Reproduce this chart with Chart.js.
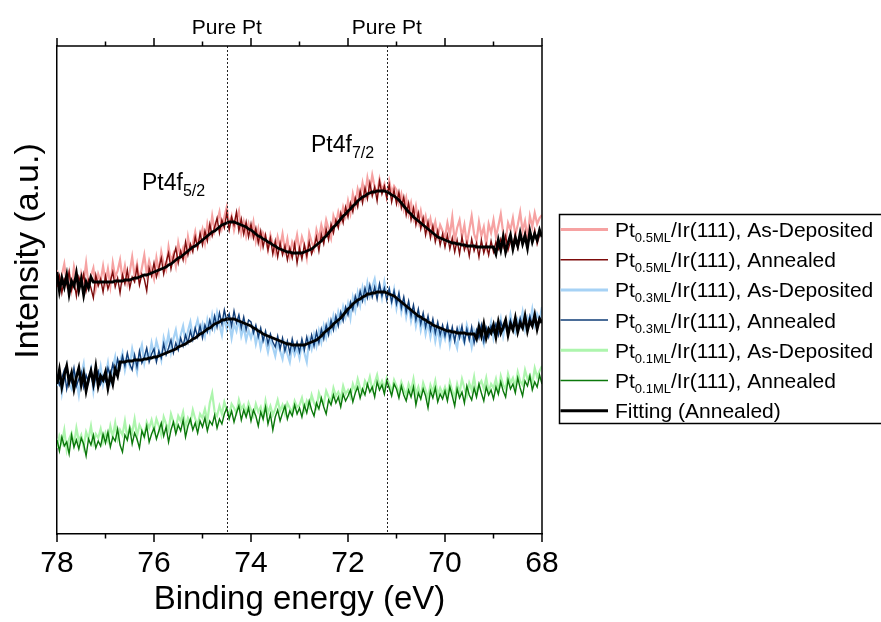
<!DOCTYPE html>
<html>
<head>
<meta charset="utf-8">
<script src="https://cdn.jsdelivr.net/npm/chart.js@4.4.1/dist/chart.umd.min.js"></script>
<style>
  html, body { margin: 0; padding: 0; background: #fff; }
  #wrap { width: 881px; height: 622px; }
</style>
</head>
<body>
<div id="wrap"><canvas id="xps" width="881" height="622"></canvas></div>
<script>
// Binding energy grid (eV), one row per eV
const energy = [
  78.00, 77.95, 77.90, 77.85, 77.80, 77.75, 77.70, 77.65, 77.60, 77.55, 77.50, 77.45, 77.40, 77.35, 77.30, 77.25, 77.20, 77.15, 77.10, 77.05,
  77.00, 76.95, 76.90, 76.85, 76.80, 76.75, 76.70, 76.65, 76.60, 76.55, 76.50, 76.45, 76.40, 76.35, 76.30, 76.25, 76.20, 76.15, 76.10, 76.05,
  76.00, 75.95, 75.90, 75.85, 75.80, 75.75, 75.70, 75.65, 75.60, 75.55, 75.50, 75.45, 75.40, 75.35, 75.30, 75.25, 75.20, 75.15, 75.10, 75.05,
  75.00, 74.95, 74.90, 74.85, 74.80, 74.75, 74.70, 74.65, 74.60, 74.55, 74.50, 74.45, 74.40, 74.35, 74.30, 74.25, 74.20, 74.15, 74.10, 74.05,
  74.00, 73.95, 73.90, 73.85, 73.80, 73.75, 73.70, 73.65, 73.60, 73.55, 73.50, 73.45, 73.40, 73.35, 73.30, 73.25, 73.20, 73.15, 73.10, 73.05,
  73.00, 72.95, 72.90, 72.85, 72.80, 72.75, 72.70, 72.65, 72.60, 72.55, 72.50, 72.45, 72.40, 72.35, 72.30, 72.25, 72.20, 72.15, 72.10, 72.05,
  72.00, 71.95, 71.90, 71.85, 71.80, 71.75, 71.70, 71.65, 71.60, 71.55, 71.50, 71.45, 71.40, 71.35, 71.30, 71.25, 71.20, 71.15, 71.10, 71.05,
  71.00, 70.95, 70.90, 70.85, 70.80, 70.75, 70.70, 70.65, 70.60, 70.55, 70.50, 70.45, 70.40, 70.35, 70.30, 70.25, 70.20, 70.15, 70.10, 70.05,
  70.00, 69.95, 69.90, 69.85, 69.80, 69.75, 69.70, 69.65, 69.60, 69.55, 69.50, 69.45, 69.40, 69.35, 69.30, 69.25, 69.20, 69.15, 69.10, 69.05,
  69.00, 68.95, 68.90, 68.85, 68.80, 68.75, 68.70, 68.65, 68.60, 68.55, 68.50, 68.45, 68.40, 68.35, 68.30, 68.25, 68.20, 68.15, 68.10, 68.05,
  68.00
];

// Pt 0.5 ML / Ir(111)
const pt05AsDep = [
  264, 248, 259, 270, 251, 262, 245, 267, 255, 243, 261, 252, 271, 249, 258, 266, 246, 260, 253, 268,
  252, 265, 248, 271, 257, 263, 274, 255, 268, 251, 262, 277, 258, 270, 253, 266, 279, 260, 273, 264,
  255, 276, 262, 282, 270, 264, 287, 273, 280, 268, 291, 278, 286, 275, 297, 283, 290, 302, 288, 296,
  305, 291, 310, 299, 318, 303, 312, 322, 306, 317, 327, 309, 318, 304, 315, 323, 301, 312, 298, 310,
  299, 312, 293, 305, 288, 301, 296, 284, 299, 290, 281, 297, 287, 300, 283, 295, 278, 292, 286, 299,
  283, 297, 289, 276, 301, 292, 285, 304, 295, 309, 299, 314, 305, 296, 318, 310, 322, 313, 327, 318,
  333, 321, 340, 329, 345, 336, 351, 338, 356, 343, 359, 347, 340, 355, 344, 350, 337, 353, 341, 348,
  344, 331, 340, 325, 336, 320, 331, 316, 328, 312, 323, 309, 318, 304, 315, 301, 312, 298, 309, 303,
  296, 311, 299, 317, 293, 306, 314, 297, 309, 290, 304, 318, 300, 293, 312, 298, 307, 289, 310, 301,
  314, 297, 308, 320, 301, 293, 311, 304, 316, 299, 309, 322, 303, 313, 296, 318, 307, 321, 310, 316,
  319
];
const pt05Ann = [
  247, 258, 241, 255, 250, 262, 244, 253, 238, 257, 249, 260, 243, 254, 246, 236, 259, 248, 255, 242,
  258, 245, 253, 262, 247, 256, 241, 259, 250, 264, 246, 257, 252, 267, 249, 260, 255, 243, 266, 258,
  271, 257, 266, 276, 260, 272, 281, 265, 277, 286, 271, 283, 274, 292, 279, 290, 282, 297, 286, 301,
  289, 303, 293, 310, 298, 307, 316, 301, 314, 306, 321, 304, 317, 309, 322, 303, 315, 300, 312, 297,
  310, 296, 306, 291, 303, 287, 299, 284, 296, 280, 293, 277, 291, 279, 288, 274, 286, 276, 290, 271,
  286, 275, 289, 278, 292, 280, 287, 297, 283, 300, 290, 305, 294, 310, 301, 314, 306, 321, 311, 327,
  317, 331, 322, 336, 327, 343, 331, 346, 335, 351, 338, 347, 333, 353, 340, 348, 336, 349, 332, 344,
  330, 342, 326, 337, 319, 331, 314, 326, 309, 321, 305, 316, 299, 312, 296, 308, 292, 303, 289, 300,
  287, 299, 285, 296, 282, 294, 280, 297, 284, 292, 278, 295, 283, 291, 277, 294, 281, 290, 279, 293,
  282, 292, 285, 295, 287, 298, 284, 293, 289, 300, 286, 296, 291, 302, 288, 298, 293, 304, 290, 299,
  301
];
// fit envelope; the two ends are the raw annealed data drawn in black
const pt05Fit = [
  262, 243, 256, 247, 259, 240, 253, 248, 261, 244, 255, 239, 252, 246, 257, 252, 252, 252, 252, 252,
  252, 252, 252, 252, 253, 253, 253, 253, 254, 254, 254, 255, 256, 256, 257, 258, 259, 259, 260, 261,
  262, 263, 264, 265, 266, 267, 269, 270, 272, 274, 276, 277, 279, 281, 283, 285, 287, 288, 290, 292,
  294, 296, 298, 300, 302, 303, 305, 307, 309, 310, 311, 312, 312, 312, 311, 310, 309, 308, 307, 305,
  304, 302, 300, 298, 297, 295, 294, 292, 291, 289, 288, 286, 285, 284, 283, 282, 282, 281, 281, 281,
  281, 281, 282, 283, 284, 285, 287, 289, 291, 293, 296, 298, 301, 304, 307, 309, 312, 315, 318, 320,
  323, 325, 328, 330, 333, 335, 337, 338, 340, 341, 342, 342, 343, 343, 343, 343, 342, 341, 339, 338,
  336, 334, 331, 328, 325, 322, 320, 317, 315, 313, 311, 309, 307, 305, 303, 301, 299, 297, 296, 295,
  294, 293, 292, 291, 291, 290, 290, 289, 289, 288, 288, 288, 288, 287, 287, 287, 287, 287, 287, 287,
  287, 280, 294, 284, 297, 282, 291, 299, 285, 296, 288, 301, 290, 298, 286, 303, 292, 300, 294, 304,
  297
];

// Pt 0.3 ML / Ir(111)
const pt03AsDep = [
  148, 162, 141, 157, 168, 150, 145, 163, 154, 139, 159, 170, 146, 156, 165, 143, 160, 152, 167, 149,
  158, 171, 153, 166, 177, 160, 172, 181, 164, 176, 168, 185, 173, 162, 180, 189, 171, 183, 176, 191,
  179, 193, 184, 174, 196, 187, 200, 182, 195, 204, 189, 199, 208, 192, 203, 212, 197, 206, 214, 201,
  210, 198, 214, 203, 219, 206, 221, 209, 199, 217, 205, 213, 196, 210, 203, 215, 198, 207, 194, 204,
  196, 205, 190, 201, 186, 197, 193, 182, 195, 187, 178, 192, 183, 175, 190, 180, 172, 188, 179, 186,
  176, 191, 181, 172, 194, 185, 199, 188, 203, 192, 208, 197, 212, 203, 218, 207, 222, 213, 227, 217,
  230, 216, 236, 224, 241, 229, 246, 234, 251, 238, 247, 255, 240, 249, 236, 252, 239, 245, 231, 244,
  226, 239, 222, 233, 217, 229, 213, 224, 208, 220, 204, 216, 200, 212, 197, 209, 193, 206, 190, 203,
  195, 208, 189, 202, 194, 186, 205, 197, 191, 209, 200, 187, 203, 194, 210, 198, 190, 206, 201, 212,
  196, 209, 203, 215, 198, 210, 204, 219, 206, 201, 214, 208, 222, 205, 217, 211, 225, 209, 220, 214,
  227
];
const pt03Ann = [
  160, 149, 156, 164, 145, 158, 152, 166, 148, 155, 162, 147, 159, 151, 165, 146, 157, 163, 150, 158,
  153, 166, 158, 170, 161, 175, 165, 178, 168, 181, 170, 164, 179, 167, 183, 171, 177, 186, 172, 180,
  185, 172, 183, 176, 190, 179, 186, 194, 181, 191, 184, 196, 188, 199, 191, 203, 194, 206, 197, 208,
  196, 209, 202, 214, 205, 218, 207, 221, 210, 224, 213, 220, 208, 223, 211, 219, 206, 217, 204, 214,
  212, 201, 209, 197, 206, 193, 203, 190, 200, 192, 187, 198, 185, 196, 183, 193, 181, 195, 184, 192,
  182, 195, 184, 197, 186, 199, 188, 202, 191, 205, 195, 209, 199, 214, 204, 218, 208, 222, 213, 227,
  219, 232, 224, 238, 229, 243, 233, 246, 236, 249, 237, 247, 235, 250, 238, 246, 234, 245, 232, 243,
  230, 241, 226, 237, 222, 233, 218, 229, 214, 225, 210, 221, 207, 218, 204, 215, 201, 212, 199, 209,
  198, 209, 195, 207, 193, 206, 196, 208, 192, 205, 194, 207, 191, 204, 196, 209, 193, 206, 197, 208,
  202, 210, 199, 212, 204, 209, 201, 214, 206, 211, 203, 216, 207, 213, 205, 218, 209, 215, 207, 217,
  212
];
const pt03Fit = [
  150, 164, 147, 159, 168, 152, 161, 145, 157, 166, 149, 160, 143, 155, 163, 151, 167, 148, 158, 154,
  162, 146, 159, 150, 165, 158, 172, 172, 172, 173, 173, 173, 174, 174, 174, 174, 175, 175, 176, 176,
  177, 177, 178, 179, 180, 181, 182, 183, 184, 185, 187, 188, 189, 190, 192, 193, 195, 196, 198, 200,
  201, 203, 205, 206, 208, 210, 211, 212, 214, 214, 215, 215, 215, 215, 214, 213, 212, 211, 210, 209,
  208, 206, 205, 203, 202, 200, 199, 198, 197, 196, 195, 194, 193, 192, 191, 190, 190, 189, 189, 189,
  189, 189, 189, 190, 191, 192, 193, 194, 196, 198, 201, 203, 205, 207, 210, 212, 214, 216, 219, 222,
  225, 227, 230, 232, 234, 235, 237, 238, 240, 240, 241, 241, 242, 242, 242, 242, 241, 240, 239, 238,
  236, 234, 232, 230, 228, 226, 224, 222, 220, 218, 217, 215, 214, 212, 211, 209, 208, 207, 206, 205,
  204, 203, 203, 202, 202, 201, 201, 201, 201, 200, 200, 200, 200, 195, 207, 198, 210, 196, 205, 201,
  209, 197, 212, 201, 207, 214, 199, 210, 204, 216, 202, 211, 206, 218, 203, 213, 208, 219, 205, 215,
  211
];

// Pt 0.1 ML / Ir(111), no fit
const pt01AsDep = [
   86,  98,  91, 104,  84,  95, 101,  89, 106,  93,  99,  87, 102,  95, 108,  91, 100,  96, 105,  92,
  101,  93, 108,  97, 111,  95, 104,  99, 113,  96, 107, 101, 115,  98, 109, 104,  97, 112, 106, 114,
  103, 115, 108,  99, 117, 110, 104, 120, 112, 106, 118, 113, 122, 107, 116, 111, 124, 115, 109, 120,
  116, 125, 113, 131, 141, 122, 118, 128, 120, 132, 124, 119, 130, 126, 121, 134, 125, 129, 120, 131,
  124, 118, 130, 122, 127, 116, 133, 121, 128, 119, 125, 134, 123, 129, 120, 131, 126, 122, 133, 127,
  129, 136, 124, 133, 127, 139, 131, 126, 141, 134, 130, 143, 137, 132, 146, 138, 142, 135, 148, 140,
  144, 137, 150, 143, 155, 146, 141, 153, 148, 157, 144, 151, 159, 147, 153, 145, 156, 150, 142, 154,
  148, 141, 152, 145, 139, 150, 143, 155, 140, 147, 137, 151, 144, 136, 149, 142, 153, 139, 146, 140,
  147, 139, 152, 143, 137, 150, 141, 155, 146, 138, 151, 144, 157, 140, 149, 153, 145, 156, 142, 150,
  146, 155, 142, 158, 149, 145, 160, 151, 156, 147, 162, 153, 149, 164, 155, 159, 150, 166, 157, 163,
  168
];
const pt01Ann = [
   94,  83,  97,  88,  92,  80,  99,  87,  94,  85,  96,  90,  78,  95,  89,  99,  86,  93,  88, 100,
   91, 102,  87,  97,  93, 105,  89,  82,  99,  94, 106,  90, 101,  95,  86, 103,  97, 108,  92, 100,
  106,  95, 103, 111,  98, 107,  92, 104, 112, 100, 109, 103, 114,  97, 108, 115, 104, 111, 101, 113,
  107, 116, 103, 113, 109, 119, 106, 115, 110, 120, 126, 115, 123, 112, 121, 128, 114, 124, 117, 126,
  113, 124, 118, 108, 122, 115, 127, 110, 120, 104, 117, 124, 113, 121, 128, 115, 123, 118, 129, 120,
  126, 117, 129, 121, 133, 124, 118, 131, 125, 136, 127, 120, 134, 129, 139, 131, 137, 127, 140, 133,
  138, 144, 132, 141, 147, 136, 145, 139, 150, 142, 147, 137, 152, 144, 149, 140, 153, 146, 138, 150,
  145, 136, 148, 139, 133, 144, 137, 147, 129, 141, 135, 145, 138, 126, 143, 136, 146, 132, 140, 135,
  143, 133, 147, 138, 128, 145, 136, 142, 131, 148, 139, 134, 146, 137, 150, 141, 133, 147, 139, 144,
  135, 147, 140, 152, 143, 137, 154, 145, 150, 141, 156, 146, 138, 153, 148, 158, 144, 152, 147, 159,
  150
];

const xTicks = [78, 77, 76, 75, 74, 73, 72, 71, 70, 69, 68];
const purePt = [74.5, 71.2];

const FONT = '"Liberation Sans", Arial, sans-serif';

// legend rows: colour, sample width, label parts (main, subscript, rest)
const legendRows = [
  { color: '#f6a2a2', width: 3, main: 'Pt', sub: '0.5ML', rest: '/Ir(111), As-Deposited' },
  { color: '#7d0b0b', width: 1.5, main: 'Pt', sub: '0.5ML', rest: '/Ir(111), Annealed' },
  { color: '#a6d2f5', width: 3, main: 'Pt', sub: '0.3ML', rest: '/Ir(111), As-Deposited' },
  { color: '#0f3c76', width: 1.5, main: 'Pt', sub: '0.3ML', rest: '/Ir(111), Annealed' },
  { color: '#adf5ad', width: 3, main: 'Pt', sub: '0.1ML', rest: '/Ir(111), As-Deposited' },
  { color: '#0b780b', width: 1.5, main: 'Pt', sub: '0.1ML', rest: '/Ir(111), Annealed' },
  { color: '#000000', width: 3, main: 'Fitting (Annealed)', sub: null, rest: '' }
];

function toPoints(values) {
  return values.map((v, i) => ({ x: energy[i], y: v }));
}

function line(values, color, width, order) {
  return {
    data: toPoints(values),
    borderColor: color,
    borderWidth: width,
    pointRadius: 0,
    tension: 0,
    fill: false,
    order: order
  };
}

// text with an optional subscript part, returns x after it
function subText(ctx, x, y, main, sub, rest, size, subSize, drop) {
  ctx.font = size + 'px ' + FONT;
  ctx.fillText(main, x, y);
  x += ctx.measureText(main).width;
  if (sub) {
    ctx.font = subSize + 'px ' + FONT;
    ctx.fillText(sub, x, y + drop);
    x += ctx.measureText(sub).width;
  }
  if (rest) {
    ctx.font = size + 'px ' + FONT;
    ctx.fillText(rest, x, y);
    x += ctx.measureText(rest).width;
  }
  return x;
}

const decorations = {
  id: 'decorations',
  afterDatasetsDraw(chart) {
    const { ctx, chartArea: a, scales: { x } } = chart;
    ctx.save();

    // pure Pt reference positions
    ctx.strokeStyle = '#222';
    ctx.lineWidth = 1;
    ctx.setLineDash([2, 2]);
    purePt.forEach(e => {
      const px = Math.round(x.getPixelForValue(e)) + 0.5;
      ctx.beginPath();
      ctx.moveTo(px, a.top);
      ctx.lineTo(px, a.bottom);
      ctx.stroke();
    });
    ctx.setLineDash([]);

    // frame: top and right
    ctx.strokeStyle = '#000';
    ctx.lineWidth = 1.5;
    ctx.beginPath();
    ctx.moveTo(a.left, a.top);
    ctx.lineTo(a.right, a.top);
    ctx.lineTo(a.right, a.bottom);
    ctx.stroke();

    // major / minor ticks, outward on top and bottom
    xTicks.forEach(e => {
      const px = x.getPixelForValue(e);
      const len = e % 2 === 0 ? 8 : 4.5;
      ctx.beginPath();
      ctx.moveTo(px, a.top);
      ctx.lineTo(px, a.top - len);
      ctx.moveTo(px, a.bottom);
      ctx.lineTo(px, a.bottom + len);
      ctx.stroke();
    });

    ctx.fillStyle = '#000';
    ctx.textBaseline = 'alphabetic';

    ctx.font = '21px ' + FONT;
    ctx.textAlign = 'center';
    purePt.forEach(e => {
      ctx.fillText('Pure Pt', x.getPixelForValue(e), 34);
    });

    // peak labels
    ctx.textAlign = 'left';
    subText(ctx, 142, 190, 'Pt4f', '5/2', '', 23, 16, 6);
    subText(ctx, 311, 152, 'Pt4f', '7/2', '', 23, 16, 6);

    // y title sits above the axis centre in the figure
    ctx.save();
    ctx.translate(29, 251);
    ctx.rotate(-Math.PI / 2);
    ctx.textAlign = 'center';
    ctx.textBaseline = 'middle';
    ctx.font = '34px ' + FONT;
    ctx.fillText('Intensity (a.u.)', 0, 0);
    ctx.restore();

    // legend
    const lx = 559.5, ly = 214.5;
    ctx.strokeStyle = '#000';
    ctx.lineWidth = 1.5;
    ctx.strokeRect(lx, ly, 340, 209);
    legendRows.forEach((r, i) => {
      const cy = 229.5 + i * 30.2;
      ctx.strokeStyle = r.color;
      ctx.lineWidth = r.width;
      ctx.beginPath();
      ctx.moveTo(lx + 1, cy);
      ctx.lineTo(608, cy);
      ctx.stroke();
      ctx.fillStyle = '#000';
      ctx.textAlign = 'left';
      subText(ctx, 615, cy + 7.5, r.main, r.sub, r.rest, 21, 13, 5);
    });

    ctx.restore();
  }
};

new Chart(document.getElementById('xps'), {
  type: 'line',
  data: {
    datasets: [
      line(pt05Fit, '#000000', 2.8, 0),
      line(pt03Fit, '#000000', 2.8, 0),
      line(pt05Ann, '#7d0b0b', 1.4, 1),
      line(pt03Ann, '#0f3c76', 1.4, 1),
      line(pt01Ann, '#0b780b', 1.4, 1),
      line(pt05AsDep, '#f6a2a2', 2.2, 2),
      line(pt03AsDep, '#a6d2f5', 2.2, 2),
      line(pt01AsDep, '#adf5ad', 2.2, 2)
    ]
  },
  options: {
    responsive: false,
    animation: false,
    devicePixelRatio: 1,
    events: [],
    layout: { padding: { top: 46, right: 339, left: 0, bottom: 0 } },
    plugins: { legend: { display: false }, tooltip: { enabled: false } },
    scales: {
      x: {
        type: 'linear',
        position: 'bottom',
        reverse: true,
        min: 68,
        max: 78,
        afterFit: s => { s.height = 88; },
        grid: { display: false, drawTicks: false },
        border: { display: true, color: '#000', width: 1.5 },
        ticks: {
          stepSize: 2,
          padding: 12,
          color: '#000',
          font: { family: FONT, size: 30 }
        },
        title: {
          display: true,
          text: 'Binding energy (eV)',
          color: '#000',
          font: { family: FONT, size: 33 },
          padding: { top: 0, bottom: 2 }
        }
      },
      y: {
        type: 'linear',
        min: 0,
        max: 488,
        afterFit: s => { s.width = 57; },
        grid: { display: false, drawTicks: false },
        border: { display: true, color: '#000', width: 1.5 },
        ticks: { display: false }
      }
    }
  },
  plugins: [decorations]
});
</script>
</body>
</html>
